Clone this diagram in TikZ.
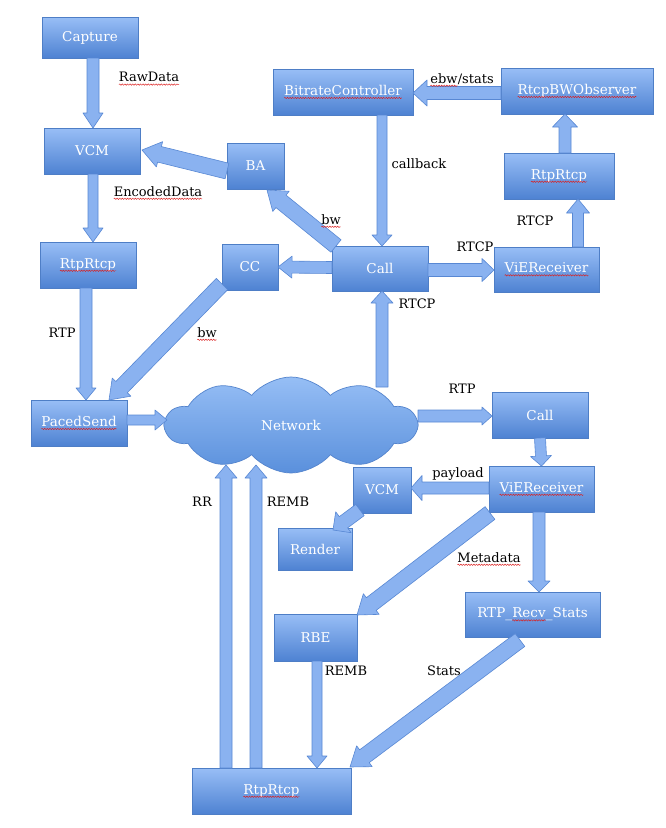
\documentclass[tikz,border=0pt]{standalone}
\usepackage{fontspec}
\setmainfont{DejaVu Serif}
\usetikzlibrary{calc,shapes.symbols,decorations.pathmorphing}
\definecolor{boxtop}{RGB}{152,190,246}
\definecolor{boxbot}{RGB}{78,130,210}
\definecolor{boxline}{RGB}{78,126,198}
\definecolor{arrfill}{RGB}{138,178,240}
\definecolor{arrline}{RGB}{88,136,212}
\definecolor{cloudtop}{RGB}{150,190,245}
\definecolor{cloudbot}{RGB}{90,144,220}
\definecolor{cloudline}{RGB}{84,132,205}
\definecolor{spell}{RGB}{220,30,30}
\newcommand\wv[1]{\tikz[baseline=(wvt.base)]{\node[inner sep=0pt,outer sep=0pt,minimum size=0pt,draw=none] (wvt) {#1};
  \draw[spell, line width=0.45pt, decorate, decoration={snake, amplitude=0.7pt, segment length=2.6pt}]
  ($(wvt.base west)+(0pt,-2.6pt)$) -- ($(wvt.base east)+(0pt,-2.6pt)$);}}
\tikzset{
 blk/.style={draw=boxline, line width=0.7pt, top color=boxtop, bottom color=boxbot,
   text=white, inner sep=0pt, outer sep=0pt, font=\fontsize{13.5}{15}\selectfont},
 lbl/.style={text=black, inner sep=1pt, font=\fontsize{13}{15}\selectfont},
 arr/.style={draw=arrline, fill=arrfill, line width=0.6pt, line join=round},
 ba shaft/.store in=\bashaft, ba head/.store in=\bahead, ba len/.store in=\balen,
 ba shaft=6pt, ba head=11pt, ba len=13pt,
}
\newcommand\barrow[3][]{%
 \begin{scope}[#1]
  \coordinate (baA) at (#2);
  \coordinate (baB) at (#3);
  \coordinate (baH) at ($(baB)!\balen!(baA)$);
  \draw[arr] ($(baA)!\bashaft!90:(baB)$) -- ($(baH)!\bashaft!90:(baB)$)
    -- ($(baH)!\bahead!90:(baB)$) -- (baB) -- ($(baH)!\bahead!-90:(baB)$)
    -- ($(baH)!\bashaft!-90:(baB)$) -- ($(baA)!\bashaft!-90:(baB)$) -- cycle;
 \end{scope}}
\begin{document}
\begin{tikzpicture}[x=1pt,y=-1pt]
\fill[white] (0,0) rectangle (665,828);
\useasboundingbox (0,0) rectangle (665,828);

% boxes
\node[blk, minimum width=96pt, minimum height=41pt] (capture) at (90,37.5) {Capture};
\node[blk, minimum width=96pt, minimum height=46pt] (vcm1) at (92,151) {VCM};
\node[blk, minimum width=57pt, minimum height=46pt] (bam) at (255.5,166) {BA};
\node[blk, minimum width=96pt, minimum height=46pt] (rtp1) at (88,265) {\wv{RtpRtcp}};
\node[blk, minimum width=56pt, minimum height=46pt] (cc) at (250,267) {CC};
\node[blk, minimum width=140pt, minimum height=46pt] (bitrate) at (343,92) {\wv{BitrateController}};
\node[blk, minimum width=152pt, minimum height=46pt] (rtcpbw) at (577,91) {\wv{RtcpBWObserver}};
\node[blk, minimum width=110pt, minimum height=46pt] (rtp2) at (559,176) {\wv{RtpRtcp}};
\node[blk, minimum width=96pt, minimum height=45pt] (call1) at (380,268.5) {Call};
\node[blk, minimum width=105pt, minimum height=45pt] (vie1) at (546.5,269.5) {\wv{ViEReceiver}};
\node[blk, minimum width=96pt, minimum height=46pt] (paced) at (79,423) {\wv{PacedSend}};
\node[blk, minimum width=96pt, minimum height=46pt] (call2) at (540,415) {Call};
\node[blk, minimum width=105pt, minimum height=46pt] (vie2) at (541.5,489) {\wv{ViEReceiver}};
\node[blk, minimum width=58pt, minimum height=46pt] (vcm2) at (382,490) {VCM};
\node[blk, minimum width=74pt, minimum height=42pt] (render) at (315,549) {Render};
\node[blk, minimum width=135pt, minimum height=45pt] (stats) at (532.5,614.5) {RTP\_\wv{Recv}\_Stats};
\node[blk, minimum width=83pt, minimum height=47pt] (rbe) at (315.5,637.5) {RBE};
\node[blk, minimum width=159pt, minimum height=46pt] (rtp3) at (271.5,791) {\wv{RtpRtcp}};

% cloud
\node[cloud, cloud puffs=10, cloud puff arc=100, aspect=2.6, draw=cloudline, line width=0.7pt,
  top color=cloudtop, bottom color=cloudbot, minimum width=251pt, minimum height=96pt,
  inner sep=0pt, text=white, font=\fontsize{13.5}{15}\selectfont] (net) at (291,425) {Network};

% arrows
\barrow[ba shaft=6pt, ba head=10pt, ba len=15pt]{$(capture.south)+(3,0)$}{$(vcm1.north)+(1,0)$}
\barrow[ba shaft=5pt, ba head=10pt, ba len=14pt]{$(vcm1.south)+(1,0)$}{$(rtp1.north)+(5,0)$}
\barrow[ba shaft=8pt, ba head=13pt, ba len=18pt]{$(bam.west)+(0,5)$}{$(vcm1.east)+(2,-1)$}
\barrow[ba shaft=8pt, ba head=13pt, ba len=18pt]{$(call1.north west)+(4,0)$}{$(bam.south east)+(-17,1)$}
\barrow[ba shaft=6pt, ba head=11pt, ba len=14pt]{$(call1.west)+(0,-1)$}{cc.east}
\barrow[ba shaft=8pt, ba head=13pt, ba len=18pt]{$(cc.south west)+(0,-6)$}{$(paced.north east)+(-18,0)$}
\barrow[ba shaft=6pt, ba head=10pt, ba len=12pt]{$(rtp1.south)+(-2,0)$}{$(paced.north)+(7,0)$}
\barrow[ba shaft=5pt, ba head=10pt, ba len=12pt]{$(paced.east)+(0,-3)$}{$(paced.east -| net.center)+(-124,-3)$}
\barrow[ba shaft=5pt, ba head=10pt, ba len=11pt]{$(bitrate.south)+(39,0)$}{$(call1.north)+(2,0)$}
\barrow[ba shaft=6.5pt, ba head=13pt, ba len=14pt]{$(rtcpbw.west)+(0,2)$}{$(bitrate.east)+(0,1)$}
\barrow[ba shaft=6pt, ba head=12.5pt, ba len=13pt]{$(rtp2.north)+(6,0)$}{$(rtcpbw.south)+(-12,0)$}
\barrow[ba shaft=5.5pt, ba head=11.5pt, ba len=14pt]{$(vie1.north)+(31.5,0)$}{$(rtp2.south)+(19,0)$}
\barrow[ba shaft=6.5pt, ba head=11.5pt, ba len=12pt]{$(call1.east)+(0,1.5)$}{$(vie1.west)+(0,0.5)$}
\barrow[ba shaft=6pt, ba head=11pt, ba len=12pt]{$(call1.south |- net.center)+(2,-38)$}{$(call1.south)+(2,0)$}
\barrow[ba shaft=6pt, ba head=9pt, ba len=10pt]{$(call2.west -| net.center)+(127,1)$}{$(call2.west)+(0,1)$}
\barrow[ba shaft=5.5pt, ba head=10.5pt, ba len=10pt]{call2.south}{vie2.north}
\barrow[ba shaft=6pt, ba head=12.5pt, ba len=11pt]{$(vie2.west)+(0,-1)$}{$(vcm2.east)+(0,-2)$}
\barrow[ba shaft=7pt, ba head=13pt, ba len=13pt]{$(vcm2.south west)+(7,-3)$}{$(render.north)+(18,2)$}
\barrow[ba shaft=8pt, ba head=13pt, ba len=18pt]{$(vie2.south west)+(1,1)$}{$(rbe.north east)+(0,1)$}
\barrow[ba shaft=6pt, ba head=11pt, ba len=11pt]{$(vie2.south)+(-2.5,0)$}{$(stats.north)+(6.5,0)$}
\barrow[ba shaft=8pt, ba head=13pt, ba len=18pt]{$(stats.south west)+(55,3)$}{$(rtp3.north east)+(-1,-1)$}
\barrow[ba shaft=5pt, ba head=10pt, ba len=12pt]{$(rbe.south)+(1.5,0)$}{$(rtp3.north)+(45.5,0)$}
\barrow[ba shaft=6pt, ba head=11pt, ba len=13pt]{$(rtp3.north)+(-45.5,0)$}{$(rtp3.north |- net.center)+(-45.5,40)$}
\barrow[ba shaft=6pt, ba head=11pt, ba len=13pt]{$(rtp3.north)+(-15.5,0)$}{$(rtp3.north |- net.center)+(-15.5,40)$}

% labels
\node[lbl] (lraw) at (149,79) {\wv{RawData}};
\node[lbl] (lenc) at (158,193) {\wv{EncodedData}};
\node[lbl] (lbw1) at (331,221) {\wv{bw}};
\node[lbl] (lbw2) at (207,334) {\wv{bw}};
\node[lbl] (lrtp1) at (62,333) {RTP};
\node[lbl] (lcb) at (419,164) {callback};
\node[lbl] (lebw) at (462,80) {\wv{ebw}/stats};
\node[lbl] (lrtcpa) at (535,221) {RTCP};
\node[lbl] (lrtcpb) at (475,247) {RTCP};
\node[lbl] (lrtcpc) at (417,304) {RTCP};
\node[lbl] (lrtp2) at (462,389) {RTP};
\node[lbl] (lpay) at (458,474) {payload};
\node[lbl] (lmeta) at (489,559) {\wv{Metadata}};
\node[lbl] (lstats) at (444,671) {Stats};
\node[lbl] (lremba) at (346,671) {REMB};
\node[lbl] (lrr) at (202,502) {RR};
\node[lbl] (lrembb) at (288,502) {REMB};
\end{tikzpicture}
\end{document}
